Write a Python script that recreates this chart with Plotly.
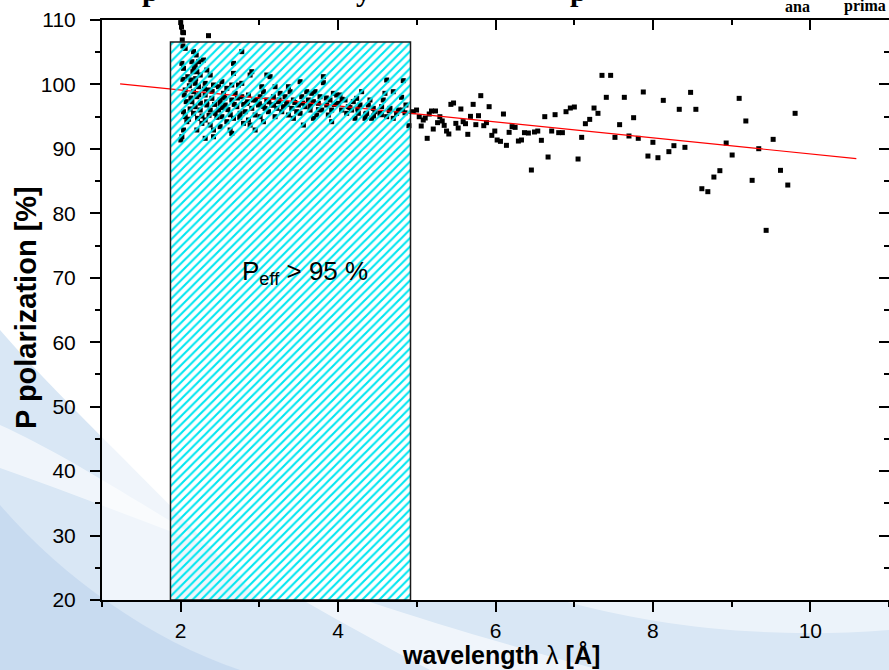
import plotly.graph_objects as go

# ---------------- data ----------------
# dense measurements inside the highlighted band (wavelength [A], polarization [%])
cloud_points = [
    (2.000, 109.6), (2.010, 108.9), (2.025, 108.1), (2.020, 106.9),
    (2.036, 108.03), (2.028, 105.97), (2.057, 105.6), (2.015, 103.27), (2.036, 102.5),
    (2.028, 100.79), (2.057, 99.14), (2.045, 98.36), (2.070, 97.33), (2.036, 95.77),
    (2.057, 95.0), (2.078, 94.22), (2.036, 92.93), (2.015, 91.89), (2.002, 91.38),
    (2.163, 105.09), (2.197, 104.57), (2.142, 103.53), (2.184, 103.02), (2.226, 103.53),
    (2.155, 101.98), (2.205, 101.98), (2.248, 101.46), (2.129, 100.69), (2.184, 100.17),
    (2.226, 99.65), (2.163, 98.88), (2.205, 98.1), (2.142, 97.33), (2.184, 96.55),
    (2.248, 96.03), (2.163, 95.52), (2.214, 94.74), (2.269, 93.96), (2.205, 92.93),
    (2.353, 107.57), (2.290, 103.79), (2.332, 102.24), (2.375, 101.46), (2.311, 100.17),
    (2.417, 99.91), (2.353, 99.14), (2.311, 98.36), (2.396, 97.84), (2.332, 96.81),
    (2.375, 96.03), (2.438, 95.52), (2.311, 94.48), (2.375, 93.7), (2.417, 92.93),
    (2.311, 91.64), (2.417, 91.89), (2.523, 100.43), (2.480, 99.65), (2.586, 99.4),
    (2.544, 98.62), (2.501, 97.59), (2.565, 96.81), (2.480, 96.03), (2.523, 95.0),
    (2.586, 94.22), (2.501, 93.45), (2.628, 92.93), (2.544, 98.1), (2.776, 105.09),
    (2.671, 103.27), (2.671, 101.72), (2.649, 99.91), (2.734, 99.91), (2.692, 98.62),
    (2.776, 98.1), (2.649, 97.59), (2.713, 96.55), (2.755, 95.52), (2.671, 94.74),
    (2.798, 93.96), (2.649, 92.41), (2.776, 100.17), (2.903, 101.98), (2.882, 101.46),
    (2.861, 98.36), (2.924, 97.59), (2.840, 97.07), (2.903, 96.29), (2.819, 95.77),
    (2.946, 95.26), (2.861, 94.48), (2.946, 92.93), (2.882, 93.7), (3.094, 101.46),
    (3.136, 101.21), (3.030, 99.65), (3.051, 98.88), (3.009, 98.1), (3.094, 97.59),
    (2.988, 96.81), (3.072, 96.29), (3.009, 95.0), (3.115, 95.77), (3.051, 94.22),
    (3.199, 99.65), (3.263, 98.62), (3.178, 98.1), (3.242, 97.33), (3.157, 96.81),
    (3.221, 96.29), (3.284, 95.77), (3.199, 95.0), (3.305, 96.55), (3.369, 99.65),
    (3.390, 98.88), (3.326, 98.1), (3.432, 97.59), (3.347, 97.07), (3.411, 96.29),
    (3.474, 95.77), (3.369, 95.26), (3.432, 94.74), (3.517, 100.43), (3.601, 98.88),
    (3.665, 98.62), (3.538, 98.1), (3.622, 97.59), (3.496, 96.81), (3.580, 96.55),
    (3.644, 96.03), (3.517, 95.52), (3.559, 93.7), (3.813, 101.21), (3.813, 100.27),
    (3.707, 98.88), (3.770, 98.1), (3.686, 97.33), (3.749, 97.07), (3.792, 96.03),
    (3.728, 95.26), (3.686, 94.74), (3.897, 97.59), (3.855, 96.81), (3.940, 98.62),
    (3.982, 98.36), (3.918, 96.03), (3.876, 95.26), (3.918, 94.22), (4.024, 98.36),
    (4.088, 97.59), (4.003, 97.07), (4.130, 96.55), (4.045, 96.03), (4.109, 95.52),
    (4.299, 98.88), (4.236, 97.84), (4.193, 97.33), (4.278, 96.81), (4.172, 96.03),
    (4.257, 95.52), (4.215, 94.74), (4.405, 97.59), (4.384, 96.81), (4.447, 96.29),
    (4.363, 95.52), (4.468, 95.77), (4.426, 94.74), (4.342, 94.74), (4.617, 100.69),
    (4.595, 98.62), (4.701, 98.88), (4.553, 96.55), (4.659, 96.29), (4.532, 95.52),
    (4.617, 95.0), (4.701, 94.74), (4.574, 97.59), (4.765, 96.03), (4.743, 95.52),
    (4.828, 100.59), (4.807, 98.0), (4.862, 96.81), (4.900, 93.6), (4.820, 96.03),
    (2.09, 101.2), (2.11, 99.8), (2.13, 97.9), (2.12, 96.2), (2.10, 94.6), (2.17, 102.6),
    (2.19, 100.9), (2.23, 98.4), (2.25, 97.1), (2.27, 95.1), (2.30, 99.3), (2.33, 97.3),
    (2.36, 95.2), (2.40, 98.9), (2.43, 96.9), (2.46, 94.9), (2.50, 97.0), (2.53, 96.4),
    (2.56, 97.9), (2.60, 96.1), (2.63, 95.3), (2.68, 96.9), (2.72, 97.9), (2.75, 94.9),
    (2.80, 96.9), (2.85, 97.3), (2.95, 97.6), (3.00, 97.0), (3.05, 96.6), (3.12, 97.3),
    (3.18, 96.8), (3.25, 97.6), (3.35, 96.9), (3.45, 97.2), (3.55, 97.1), (3.65, 96.7),
    (3.75, 96.1), (3.85, 97.9), (3.95, 96.9), (4.05, 97.7), (4.15, 96.4), (4.25, 96.2),
    (4.35, 95.4), (4.45, 95.1), (4.55, 95.3), (4.65, 95.9), (4.85, 95.6),
]

# sparser measurements at longer wavelengths
tail_points = [
    (4.997, 96.03), (4.955, 95.77), (5.031, 94.99), (5.056, 93.55), (5.082, 94.48),
    (5.107, 94.79), (5.132, 91.64), (5.158, 95.41), (5.187, 95.88), (5.209, 93.08),
    (5.238, 95.88), (5.264, 94.07), (5.293, 94.99), (5.323, 94.33), (5.348, 93.65),
    (5.378, 92.77), (5.407, 92.31), (5.433, 96.91), (5.467, 97.12), (5.496, 93.96),
    (5.526, 93.24), (5.560, 96.19), (5.589, 94.22), (5.619, 93.91), (5.648, 92.26),
    (5.682, 95.05), (5.716, 96.91), (5.750, 93.76), (5.784, 95.15), (5.813, 98.26),
    (5.851, 93.6), (5.885, 94.07), (5.919, 96.55), (5.953, 92.1), (5.991, 92.77),
    (6.021, 91.38), (6.063, 91.17), (6.101, 95.41), (6.139, 90.55), (6.173, 92.57),
    (6.211, 93.45), (6.249, 93.34), (6.291, 91.22), (6.330, 91.38), (6.368, 92.52),
    (6.418, 92.46), (6.456, 86.72), (6.495, 92.62), (6.537, 92.77), (6.583, 91.33),
    (6.626, 95.0), (6.668, 88.74), (6.714, 92.77), (6.757, 95.31), (6.803, 92.52),
    (6.850, 92.52), (6.896, 95.77), (6.951, 96.34), (7.002, 96.5), (7.049, 88.43),
    (7.095, 91.79), (7.142, 93.91), (7.197, 94.58), (7.252, 96.34), (7.302, 95.52),
    (7.353, 101.41), (7.408, 98.0), (7.463, 101.41), (7.518, 91.79), (7.577, 93.76),
    (7.637, 98.0), (7.696, 92.0), (7.755, 94.84), (7.814, 91.64), (7.878, 98.83),
    (7.937, 88.89), (8.000, 91.02), (8.064, 88.63), (8.132, 97.53), (8.203, 89.57),
    (8.267, 90.5), (8.335, 96.14), (8.407, 90.24), (8.479, 98.77), (8.546, 96.14),
    (8.622, 83.82), (8.698, 83.36), (8.775, 85.63), (8.851, 86.62), (8.931, 90.91),
    (9.007, 89.05), (9.096, 97.84), (9.181, 94.33), (9.261, 85.12), (9.345, 90.03),
    (9.439, 77.36), (9.528, 91.48), (9.621, 86.67), (9.714, 84.39), (9.807, 95.52),
]

# linear fit (red line) end points
fit_lambda = [1.23, 10.585]
fit_pol = [100.1, 88.5]

# highlighted band (P_eff > 95 %)
band_lambda = [1.87, 4.92]
band_pol = [20.0, 106.6]

x_major = [2, 4, 6, 8, 10]
x_minor = [1, 3, 5, 7, 9, 11]
y_major = [20, 30, 40, 50, 60, 70, 80, 90, 100, 110]
y_minor = [25, 35, 45, 55, 65, 75, 85, 95, 105]

# ---------------- figure ----------------
W, H = 889, 670
L, R, T, B = 102, 0, 20, 70
FONT = "Liberation Sans, Arial, sans-serif"


def pxx(x):
    return (x - L) / (W - L - R)


def pxy(y):
    return (H - B - y) / (H - T - B)


lam = [p[0] for p in cloud_points] + [p[0] for p in tail_points]
pol = [p[1] for p in cloud_points] + [p[1] for p in tail_points]

fig = go.Figure()
fig.add_trace(go.Scatter(
    x=lam, y=pol, mode="markers",
    marker=dict(symbol="square", size=5, color="black", line=dict(width=0)),
    xaxis="x", yaxis="y", hoverinfo="skip"))
fig.add_trace(go.Scatter(
    x=fit_lambda, y=fit_pol, mode="lines",
    line=dict(color="#ff0000", width=1.2),
    xaxis="x", yaxis="y", hoverinfo="skip"))
fig.add_trace(go.Bar(
    x=[(band_lambda[0] + band_lambda[1]) / 2],
    y=[band_pol[1] - band_pol[0]],
    base=[band_pol[0]],
    width=[band_lambda[1] - band_lambda[0]],
    xaxis="x2", yaxis="y2",
    marker=dict(color="rgba(0,0,0,0)",
                line=dict(color="#1a1a1a", width=1.5),
                pattern=dict(shape="/", fgcolor="#00e6f0",
                             bgcolor="rgba(0,0,0,0)", size=6,
                             solidity=0.35, fillmode="replace")),
    hoverinfo="skip"))

tickfont = dict(family=FONT, size=21, color="black")
common = dict(showgrid=False, zeroline=False, showline=True,
              linewidth=2, linecolor="black", tickwidth=2,
              tickcolor="black", ticklen=10)

fig.update_layout(
    width=W, height=H,
    margin=dict(l=L, r=R, t=T, b=B, pad=0),
    paper_bgcolor="white", plot_bgcolor="rgba(0,0,0,0)",
    showlegend=False,
    xaxis=dict(range=[1, 11], tickvals=x_major, ticks="outside",
               tickfont=tickfont, ticklabelstandoff=1,
               minor=dict(tickvals=x_minor, ticks="outside", ticklen=5,
                          tickwidth=2, tickcolor="black"), **common),
    yaxis=dict(range=[20, 110], tickvals=y_major, ticks="outside",
               tickfont=tickfont, ticklabelstandoff=10,
               minor=dict(tickvals=y_minor, ticks="outside", ticklen=5,
                          tickwidth=2, tickcolor="black"), **common),
    xaxis2=dict(range=[1, 11], overlaying="x", side="top", anchor="y2",
                tickvals=x_major, ticks="inside", showticklabels=False,
                minor=dict(tickvals=x_minor, ticks="inside", ticklen=5,
                           tickwidth=2, tickcolor="black"), **common),
    yaxis2=dict(range=[20, 110], overlaying="y", side="right", anchor="x2",
                tickvals=y_major, ticks="inside", showticklabels=False,
                minor=dict(tickvals=y_minor, ticks="inside", ticklen=5,
                           tickwidth=2, tickcolor="black"), **common),
)


def path(points, close=True):
    s = ""
    for cmd, coords in points:
        pts = " ".join(f"{pxx(a):.4f},{pxy(b):.4f}" for a, b in coords)
        s += f"{cmd} {pts} "
    return s + ("Z" if close else "")


# slide-style background swoosh (light blue, bottom left)
bg_shapes = [
    ([("M", [(0, 330)]), ("C", [(60, 400), (150, 480), (260, 600)]),
      ("L", [(889, 600)]), ("L", [(889, 670)]), ("L", [(0, 670)])],
     "rgba(208,225,243,0.8)"),
    ([("M", [(0, 505)]), ("C", [(60, 575), (150, 640), (240, 670)]),
      ("L", [(0, 670)])], "rgba(180,205,235,0.45)"),
    ([("M", [(0, 425)]), ("C", [(100, 470), (220, 560), (430, 670)]),
      ("L", [(600, 670)]), ("C", [(300, 590), (150, 520), (0, 468)])],
     "rgba(255,255,255,0.6)"),
    ([("M", [(560, 600)]), ("C", [(650, 625), (760, 640), (889, 630)]),
      ("L", [(889, 600)])], "rgba(255,255,255,0.5)"),
    ([("M", [(L, T)]), ("L", [(W, T)]), ("L", [(W, H - B)]),
      ("L", [(L, H - B)])], "rgba(255,255,255,0.6)"),
]
for pts, col in bg_shapes:
    fig.add_shape(type="path", path=path(pts), xref="paper", yref="paper",
                  fillcolor=col, line=dict(width=0), layer="below")

annos = [
    dict(text="P<sub>eff</sub> &gt; 95 %", x=3.58, y=70.8, xref="x", yref="y",
         font=dict(family=FONT, size=26, color="black"), showarrow=False,
         xanchor="center", yanchor="middle"),
    dict(text="<b>wavelength</b> λ <b>[Å]</b>", x=pxx(501), y=pxy(655),
         xref="paper", yref="paper", showarrow=False,
         font=dict(family=FONT, size=25, color="black"),
         xanchor="center", yanchor="middle"),
    dict(text="<b>P polarization [%]</b>", x=pxx(26), y=pxy(308),
         xref="paper", yref="paper", showarrow=False, textangle=-90,
         font=dict(family=FONT, size=29, color="black"),
         xanchor="center", yanchor="middle"),
]
serif = "Liberation Serif, Times New Roman, serif"
for txt, xp in [("ana", 797), ("prima", 865)]:
    annos.append(dict(text=f"<b>{txt}</b>", x=pxx(xp), y=pxy(6), xref="paper",
                      yref="paper", showarrow=False,
                      font=dict(family=serif, size=16, color="black"),
                      xanchor="center", yanchor="middle"))
for txt, xp in [("p", 150), ("y", 363), ("p", 578)]:
    annos.append(dict(text=f"<b>{txt}</b>", x=pxx(xp), y=pxy(9), xref="paper",
                      yref="paper", showarrow=False,
                      font=dict(family=serif, size=30, color="black"),
                      xanchor="center", yanchor="bottom"))
fig.update_layout(annotations=annos)

fig.write_html(
    "out.html",
    config={"displayModeBar": False},
    post_script="document.body.style.margin='0';document.body.style.padding='0';",
)
